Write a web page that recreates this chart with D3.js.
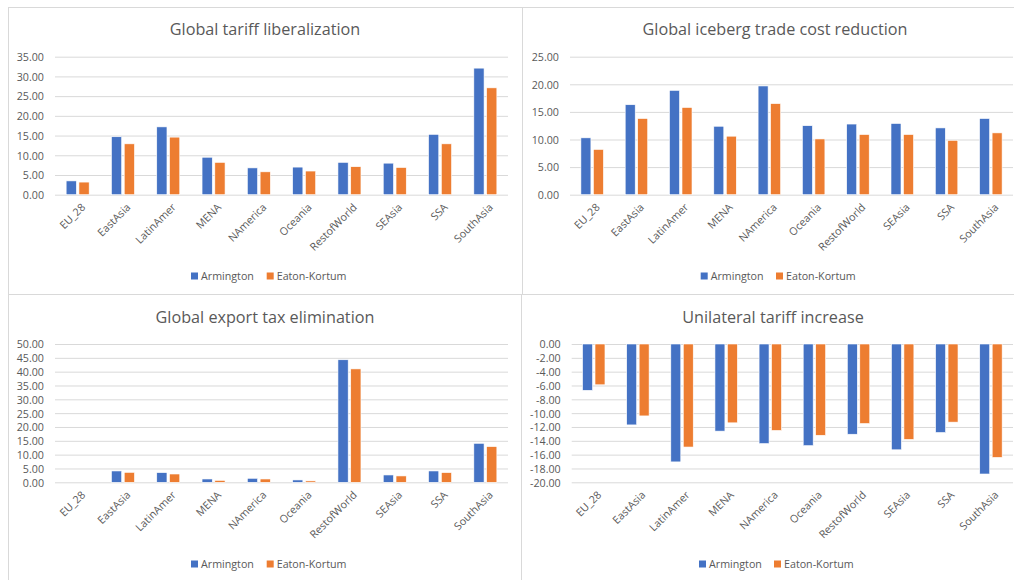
<!DOCTYPE html>
<html>
<head>
<meta charset="utf-8">
<script src="https://cdn.jsdelivr.net/npm/d3@7"></script>
<style>
  html, body { margin: 0; padding: 0; background: #ffffff; }
  svg { display: block; }
  text { font-family: "Open Sans", "Noto Sans", sans-serif; fill: #595959; }
</style>
</head>
<body>
<svg id="chart" width="1014" height="580"></svg>
<script>
// ---------- data ----------
const categories = ["EU_28","EastAsia","LatinAmer","MENA","NAmerica","Oceania","RestofWorld","SEAsia","SSA","SouthAsia"];
const seriesNames = ["Armington","Eaton-Kortum"];
const seriesColors = ["#4472C4","#ED7D31"];

const titles = ["Global tariff liberalization","Global iceberg trade cost reduction","Global export tax elimination","Unilateral tariff increase"];

const tariffArmington = [3.5,14.7,17.2,9.5,6.8,7.0,8.2,8.0,15.3,32.1];
const tariffEaton     = [3.2,12.9,14.6,8.2,5.8,6.0,7.1,6.9,12.9,27.1];
const tariffTicks     = [0,5,10,15,20,25,30,35];

const icebergArmington = [10.3,16.3,18.9,12.4,19.7,12.5,12.8,12.9,12.1,13.8];
const icebergEaton     = [8.2,13.8,15.8,10.6,16.5,10.1,10.9,10.9,9.85,11.2];
const icebergTicks     = [0,5,10,15,20,25];

const exportArmington = [0,4.1,3.5,1.2,1.45,0.85,44.3,2.65,4.1,14.1];
const exportEaton     = [0,3.6,3.0,0.7,1.2,0.5,41.0,2.3,3.5,12.9];
const exportTicks     = [0,5,10,15,20,25,30,35,40,45,50];

const unilateralArmington = [-6.7,-11.7,-17.05,-12.6,-14.4,-14.7,-13.05,-15.3,-12.8,-18.8];
const unilateralEaton     = [-5.9,-10.4,-14.9,-11.4,-12.5,-13.2,-11.5,-13.8,-11.3,-16.4];
const unilateralTicks     = [0,-2,-4,-6,-8,-10,-12,-14,-16,-18,-20];

// ---------- layout ----------
const panels = [
  { title: titles[0], a: tariffArmington, e: tariffEaton, ticks: tariffTicks,
    x0: 55, x1: 508, yTop: 56.7, yBot: 194.7, labelRight: 44, titleX: 265, titleY: 35,
    legendX: 191, legendX2: 266.7, legendY: 276 },
  { title: titles[1], a: icebergArmington, e: icebergEaton, ticks: icebergTicks,
    x0: 570, x1: 1013, yTop: 56.7, yBot: 194.7, labelRight: 559, titleX: 775, titleY: 35,
    legendX: 700.7, legendX2: 776, legendY: 276 },
  { title: titles[2], a: exportArmington, e: exportEaton, ticks: exportTicks,
    x0: 55, x1: 508, yTop: 344, yBot: 482.3, labelRight: 44, titleX: 265, titleY: 323,
    legendX: 191, legendX2: 266.7, legendY: 564 },
  { title: titles[3], a: unilateralArmington, e: unilateralEaton, ticks: unilateralTicks,
    x0: 571.7, x1: 1013, yTop: 344, yBot: 482.3, labelRight: 560.7, titleX: 773, titleY: 323,
    legendX: 699, legendX2: 774, legendY: 564 }
];

const locale = d3.formatLocale({decimal: ".", thousands: ",", grouping: [3], currency: ["", ""], minus: "-"});
const fmt = locale.format(".2f");

const svg = d3.select("#chart");
const gridColor = "#d9d9d9";

// panel borders
const borders = svg.append("g").attr("stroke", gridColor).attr("stroke-width", 1).attr("fill", "none");
borders.append("rect").attr("x", 8.5).attr("y", 7.5).attr("width", 514).attr("height", 287);
borders.append("rect").attr("x", 522.5).attr("y", 7.5).attr("width", 520).attr("height", 287);
borders.append("rect").attr("x", 8.5).attr("y", 294.5).attr("width", 513).attr("height", 320);
borders.append("rect").attr("x", 521.5).attr("y", 294.5).attr("width", 520).attr("height", 320);

panels.forEach(p => {
  const g = svg.append("g");
  const ext = d3.extent(p.ticks);
  const y = d3.scaleLinear().domain(ext).range([p.yBot, p.yTop]);
  const x = d3.scaleBand().domain(categories).range([p.x0, p.x1]).padding(0);
  const B = x.bandwidth();
  const xs = d3.scaleBand().domain(seriesNames).range([-0.254 * B, 0.254 * B]).paddingInner(0.2);

  // title
  g.append("text").attr("x", p.titleX).attr("y", p.titleY)
    .attr("text-anchor", "middle").style("font-size", "16.2px").text(p.title);

  // gridlines
  const yAxis = d3.axisLeft(y).tickValues(p.ticks).tickFormat(fmt).tickSize(-(p.x1 - p.x0)).tickPadding(0);
  const ga = g.append("g").attr("transform", `translate(${p.x0},0)`).call(yAxis);
  ga.select(".domain").remove();
  ga.selectAll(".tick line").attr("stroke", gridColor).attr("stroke-width", 1);
  ga.selectAll(".tick text")
    .attr("x", p.labelRight - p.x0).attr("text-anchor", "end")
    .attr("dy", "0.36em")
    .style("font-size", "10.7px").style("font-family", "'Open Sans', sans-serif").attr("fill", "#595959");

  // bars
  const series = [p.a, p.e];
  series.forEach((vals, si) => {
    g.append("g").selectAll("rect").data(vals).join("rect")
      .attr("x", (d, i) => x(categories[i]) + B / 2 + xs(seriesNames[si]))
      .attr("width", xs.bandwidth())
      .attr("y", d => Math.min(y(d), y(0)))
      .attr("height", d => Math.abs(y(d) - y(0)))
      .attr("fill", seriesColors[si])
      .attr("stroke", "#ffffff").attr("stroke-width", 0.6);
  });

  // category labels
  g.append("g").selectAll("text").data(categories).join("text")
    .attr("transform", d => `translate(${x(d) + B / 2 + 3},${p.yBot + 8}) rotate(-45)`)
    .attr("text-anchor", "end").attr("dy", "0.7em")
    .style("font-size", "10.7px").text(d => d);

  // legend
  const lx = [p.legendX, p.legendX2];
  seriesNames.forEach((n, si) => {
    g.append("rect").attr("x", lx[si]).attr("y", p.legendY - 3.5).attr("width", 7).attr("height", 7)
      .attr("fill", seriesColors[si]);
    g.append("text").attr("x", lx[si] + 10).attr("y", p.legendY).attr("dy", "0.36em")
      .style("font-size", "10.7px").text(n);
  });
});
</script>
</body>
</html>
